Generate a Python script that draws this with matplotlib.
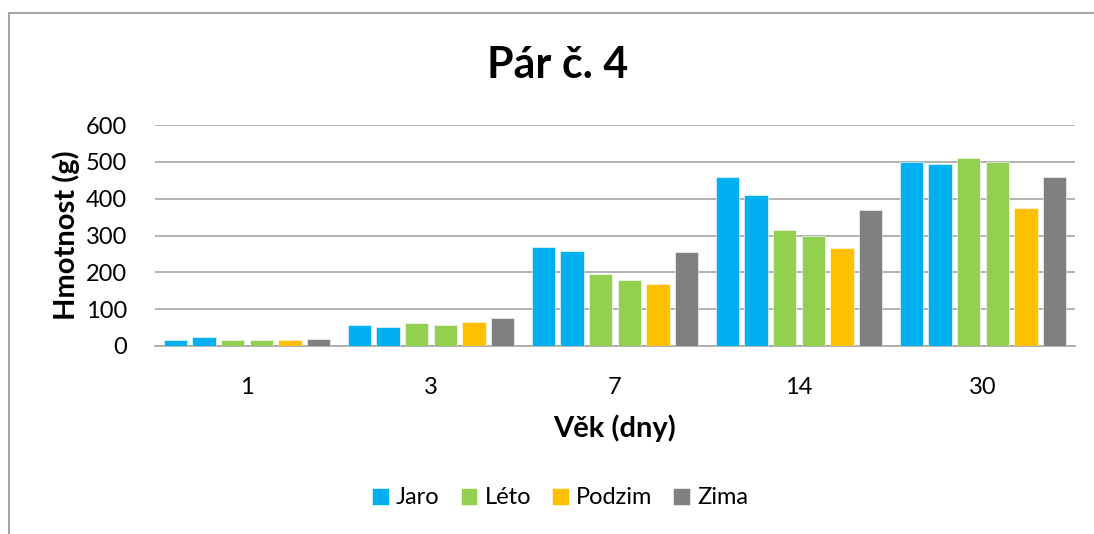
import matplotlib.pyplot as plt
from matplotlib.patches import Rectangle
import numpy as np

plt.rcParams['font.family'] = ['Lato', 'DejaVu Sans']

# data
ages = ['1', '3', '7', '14', '30']
jaro_1 = [15, 58, 270, 459, 500]
jaro_2 = [24, 52, 257, 409, 494]
leto_1 = [17, 63, 195, 314, 511]
leto_2 = [15, 58, 178, 299, 500]
podzim = [17, 66, 169, 265, 375]
zima = [20, 75, 254, 369, 458]

series = [jaro_1, jaro_2, leto_1, leto_2, podzim, zima]
labels = ['Jaro', None, 'Léto', None, 'Podzim', 'Zima']
colors = ['#00B0F0', '#00B0F0', '#92D050', '#92D050', '#FFC000', '#808080']

fig = plt.figure(figsize=(10.94, 5.34), dpi=100)
ax = fig.add_axes([155/1094, 1 - 346/534, (1075-155)/1094, (346-125)/534])

x = np.arange(len(ages))
slot = 0.1556
width = 0.126
for i, (vals, lab, col) in enumerate(zip(series, labels, colors)):
    ax.bar(x + (i - 2.5) * slot, vals, width, color=col, label=lab,
           edgecolor='white', linewidth=0.4, zorder=3)

ax.set_xlim(-0.5, len(ages) - 0.5)
ax.set_ylim(0, 600)
ax.set_yticks(range(0, 601, 100))
ax.set_xticks(x)
ax.set_xticklabels(ages)
ax.yaxis.grid(True, color='#A6A6A6', linewidth=1.2, zorder=0)
for s in ['top', 'right', 'left']:
    ax.spines[s].set_visible(False)
ax.spines['bottom'].set_color('#A6A6A6')
ax.spines['bottom'].set_linewidth(1.2)
ax.tick_params(axis='both', length=0, labelsize=17, colors='black')
ax.tick_params(axis='x', pad=22)
ax.tick_params(axis='y', pad=20)

ax.set_ylabel('Hmotnost (g)', fontsize=21, fontweight='bold', labelpad=4)
ax.set_xlabel('Věk (dny)', fontsize=21, fontweight='bold', labelpad=12)
fig.text(0.51, 1 - 65/534, 'Pár č. 4', ha='center', va='center',
         fontsize=31, fontweight='bold')

handles, labs = ax.get_legend_handles_labels()
fig.legend(handles, labs, loc='center', bbox_to_anchor=(0.512, 1 - 498/534),
           ncol=4, frameon=False, fontsize=17, handlelength=0.7,
           handleheight=0.7, handletextpad=0.3, columnspacing=0.9)

fig.patches.append(Rectangle((9/1094, -0.1), 1.2, 1 - 13/534 + 0.1,
                             transform=fig.transFigure, fill=False,
                             edgecolor='#A6A6A6', linewidth=1.5))

fig.savefig('out.png', dpi=100)
